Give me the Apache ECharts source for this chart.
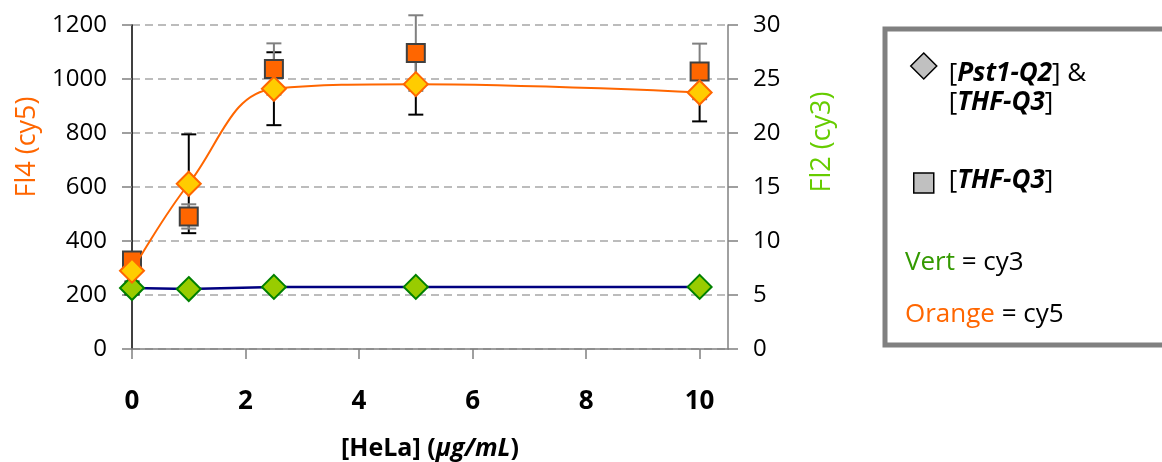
<!DOCTYPE html>
<html>
<head>
<meta charset="utf-8">
<script src="https://cdn.jsdelivr.net/npm/echarts@6/dist/echarts.min.js"></script>
<style>
html,body{margin:0;padding:0;background:#fff;}
#chart{width:1162px;height:462px;}
</style>
</head>
<body>
<div id="chart"></div>
<script>
// ---- data ----
const xValues = [0, 1, 2.5, 5, 10];
const fl4Diamond = [290, 612, 964, 981, 950];      // [Pst1-Q2] & [THF-Q3], cy5 (left axis)
const fl4DiamondErr = [0, 183, 135, 113, 107];
const fl4Square = [328, 491, 1037, 1096, 1028];    // [THF-Q3], cy5 (left axis)
const fl4SquareErr = [0, 45, 95, 140, 103];
const fl2Diamond = [5.65, 5.55, 5.75, 5.75, 5.75]; // [Pst1-Q2] & [THF-Q3], cy3 (right axis)
const fl2DiamondErr = [0.6, 0, 0, 0, 0];
const xTickLabels = [0, 2, 4, 6, 8, 10];

const FONT = 'Open Sans';
const S_DIAMOND = '[Pst1-Q2] & [THF-Q3]';
const S_SQUARE = '[THF-Q3]';

const pairs = (ys) => xValues.map((x, i) => [x, ys[i]]);
const errData = (ys, es) => xValues.map((x, i) => [x, ys[i] - es[i], ys[i] + es[i], es[i]]);

function errSeries(name, data, color, yAxisIndex) {
  return {
    type: 'custom', name: name, yAxisIndex: yAxisIndex, z: 1, silent: true,
    data: data, encode: {x: 0, y: [1, 2]},
    renderItem: function (params, api) {
      if (!api.value(3)) return null;
      const x = api.value(0);
      const p1 = api.coord([x, api.value(1)]);
      const p2 = api.coord([x, api.value(2)]);
      const w = 7.5;
      const st = {stroke: color, lineWidth: 2};
      return {type: 'group', children: [
        {type: 'line', shape: {x1: p1[0], y1: p1[1], x2: p2[0], y2: p2[1]}, style: st},
        {type: 'line', shape: {x1: p1[0] - w, y1: p1[1], x2: p1[0] + w, y2: p1[1]}, style: st},
        {type: 'line', shape: {x1: p2[0] - w, y1: p2[1], x2: p2[0] + w, y2: p2[1]}, style: st}
      ]};
    }
  };
}

const chart = echarts.init(document.getElementById('chart'));
chart.setOption({
  animation: false,
  backgroundColor: '#ffffff',
  textStyle: {fontFamily: FONT},
  grid: {left: 132, right: 434, top: 25, bottom: 113, containLabel: false, outerBoundsMode: 'none'},
  xAxis: {
    type: 'value', min: 0, max: 10.5, interval: 2,
    name: '[HeLa] ({i|µg/mL})', nameLocation: 'middle', nameGap: 87,
    nameTextStyle: {fontFamily: FONT, fontSize: 25, fontWeight: 'bold', color: '#000',
      rich: {i: {fontFamily: FONT, fontSize: 25, fontWeight: 'bold', fontStyle: 'italic', color: '#000'}}},
    axisLine: {show: true, onZero: false, lineStyle: {color: '#808080', width: 1.5}},
    axisTick: {show: true, length: 10, customValues: xTickLabels, lineStyle: {color: '#808080', width: 1.5}},
    axisLabel: {customValues: xTickLabels, margin: 40, fontFamily: FONT, fontSize: 26, fontWeight: 'bold', color: '#000'},
    splitLine: {show: false}
  },
  yAxis: [
    {
      type: 'value', min: 0, max: 1200, interval: 200, position: 'left',
      name: 'Fl4 (cy5)', nameLocation: 'middle', nameGap: 88,
      nameTextStyle: {fontFamily: FONT, fontSize: 27, color: '#FF6600', padding: [0, 0, 0, 80]},
      axisLine: {show: true, lineStyle: {color: '#000', width: 1.5}},
      axisTick: {show: true, length: 10, lineStyle: {color: '#808080', width: 1.5}},
      axisLabel: {margin: 25, fontFamily: FONT, fontSize: 24, color: '#000', formatter: (v) => String(v)},
      splitLine: {show: true, lineStyle: {color: '#A6A6A6', width: 1.5, type: [8, 5]}}
    },
    {
      type: 'value', min: 0, max: 30, interval: 5, position: 'right',
      name: 'Fl2 (cy3)', nameLocation: 'middle', nameGap: 81,
      nameTextStyle: {fontFamily: FONT, fontSize: 27, color: '#66CC00', padding: [0, 0, 0, 90]},
      axisLine: {show: true, lineStyle: {color: '#808080', width: 1.5}},
      axisTick: {show: true, length: 10, lineStyle: {color: '#808080', width: 1.5}},
      axisLabel: {margin: 25, fontFamily: FONT, fontSize: 24, color: '#000', formatter: (v) => String(v)},
      splitLine: {show: false}
    }
  ],
  legend: [
    {
      orient: 'vertical', left: 910, top: 15, padding: 0, itemWidth: 26, itemHeight: 26,
      selectedMode: false,
      data: [{name: S_DIAMOND, icon: 'diamond', itemStyle: {color: '#C0C0C0', borderColor: '#000', borderWidth: 1.5}}],
      formatter: () => '[{bi|Pst1-Q2}] &\n[{bi|THF-Q3}]',
      textStyle: {fontFamily: FONT, fontSize: 26, lineHeight: 29, color: '#000', padding: [44, 0, 0, 7],
        rich: {bi: {fontFamily: FONT, fontSize: 26, lineHeight: 29, fontWeight: 'bold', fontStyle: 'italic', color: '#000'}}}
    },
    {
      orient: 'vertical', left: 913, top: 168, padding: 0, itemWidth: 20, itemHeight: 20,
      selectedMode: false,
      data: [{name: S_SQUARE, icon: 'rect', itemStyle: {color: '#C0C0C0', borderColor: '#000', borderWidth: 1.5}}],
      formatter: () => '[{bi|THF-Q3}]',
      textStyle: {fontFamily: FONT, fontSize: 26, color: '#000', padding: [0, 0, 4, 10],
        rich: {bi: {fontFamily: FONT, fontSize: 26, fontWeight: 'bold', fontStyle: 'italic', color: '#000'}}}
    }
  ],
  graphic: [
    {type: 'rect', z: -1, shape: {x: 885, y: 29, width: 300, height: 316},
      style: {fill: '#fff', stroke: '#808080', lineWidth: 5}},
    {type: 'text', left: 905, top: 250, style: {text: '{g|Vert} = cy3', fontFamily: FONT, fontSize: 26, fill: '#000',
      rich: {g: {fontFamily: FONT, fontSize: 26, fill: '#339900'}}}},
    {type: 'text', left: 905, top: 302, style: {text: '{o|Orange} = cy5', fontFamily: FONT, fontSize: 26, fill: '#000',
      rich: {o: {fontFamily: FONT, fontSize: 26, fill: '#FF6600'}}}}
  ],
  series: [
    errSeries('err-cy5-diamond', errData(fl4Diamond, fl4DiamondErr), '#000', 0),
    errSeries('err-cy5-square', errData(fl4Square, fl4SquareErr), '#808080', 0),
    errSeries('err-cy3-diamond', errData(fl2Diamond, fl2DiamondErr), '#000', 1),
    {
      name: S_DIAMOND, type: 'line', yAxisIndex: 1, z: 3, data: pairs(fl2Diamond),
      symbol: 'diamond', symbolSize: 24,
      lineStyle: {color: '#000080', width: 2.5},
      itemStyle: {color: '#99CC00', borderColor: '#008000', borderWidth: 2}
    },
    {
      name: S_SQUARE, type: 'scatter', yAxisIndex: 0, z: 4, data: pairs(fl4Square),
      symbol: 'rect', symbolSize: 18,
      itemStyle: {color: '#FF6600', borderColor: '#404040', borderWidth: 2, opacity: 1}
    },
    {
      name: S_DIAMOND, type: 'line', yAxisIndex: 0, z: 5, data: pairs(fl4Diamond),
      smooth: 0.4, symbol: 'diamond', symbolSize: 24,
      lineStyle: {color: '#FF6600', width: 2},
      itemStyle: {color: '#FFCC00', borderColor: '#FF6600', borderWidth: 2}
    }
  ]
});
</script>
</body>
</html>
